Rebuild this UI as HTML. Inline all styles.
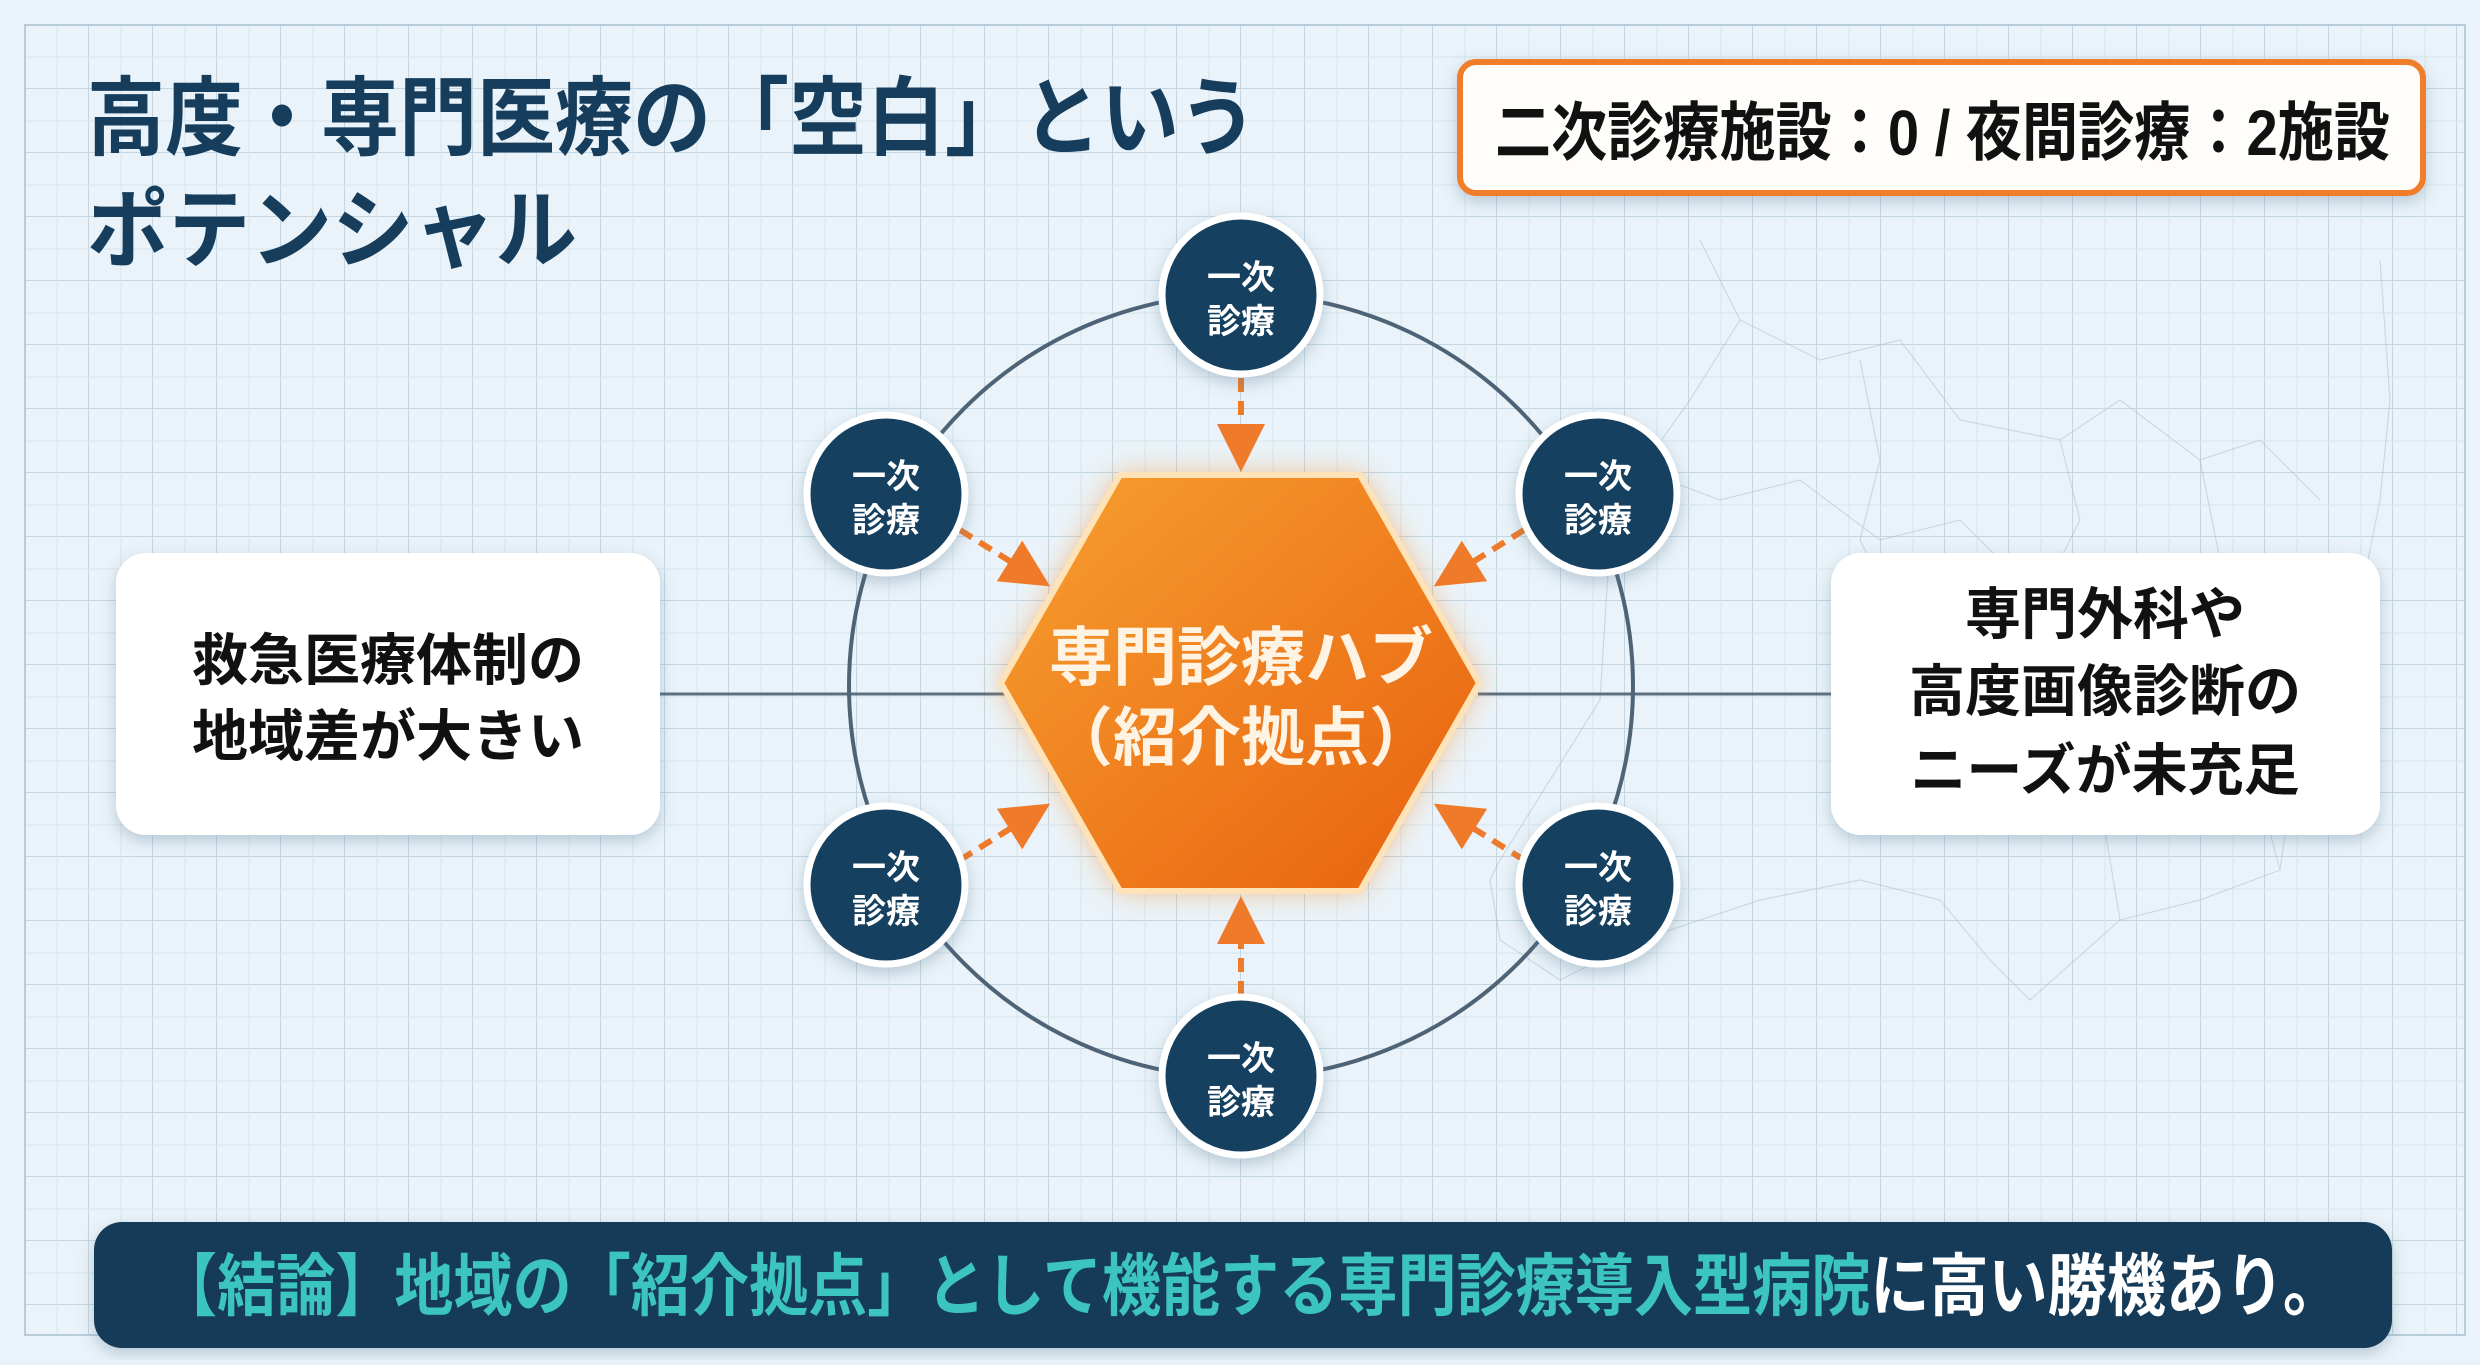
<!DOCTYPE html>
<html><head><meta charset="utf-8"><style>
html,body{margin:0;padding:0}
body{width:2480px;height:1360px;overflow:hidden;background:#e8f2f8;font-family:"Liberation Sans","Noto Sans CJK JP",sans-serif;}
svg text{font-family:"Liberation Sans","Noto Sans CJK JP",sans-serif;font-weight:700}
</style></head><body>
<svg width="2480" height="1360" viewBox="0 0 2480 1360" xmlns="http://www.w3.org/2000/svg">
<defs>
<pattern id="g" width="64" height="64" patternUnits="userSpaceOnUse" x="25" y="25">
<path d="M64 0V64M0 64H64" fill="none" stroke="#c3d6e2" stroke-width="2"/>
<path d="M32 0V64M0 32H64" fill="none" stroke="#d6e4ec" stroke-width="1"/>
</pattern>
<linearGradient id="hx" x1="0" y1="0" x2="1" y2="1">
<stop offset="0" stop-color="#f7a030"/><stop offset="1" stop-color="#e8600e"/>
</linearGradient>
<filter id="glow" x="-30%" y="-30%" width="160%" height="160%"><feGaussianBlur stdDeviation="14"/></filter>
<filter id="sh" x="-20%" y="-20%" width="140%" height="140%"><feDropShadow dx="0" dy="6" stdDeviation="8" flood-color="#5a7a90" flood-opacity="0.35"/></filter>
<marker id="ah" markerWidth="8" markerHeight="8" refX="6" refY="4" orient="auto" markerUnits="strokeWidth"><path d="M0,0 L8,4 L0,8 Z" fill="#ee7a2a"/></marker>
</defs>
<rect x="0" y="0" width="2480" height="1360" fill="#eaf3f9"/>
<rect x="25" y="25" width="2440" height="1310" fill="url(#g)" stroke="#b8cdd9" stroke-width="2"/>
<!-- faint map -->
<g fill="none" stroke="#a9b9c4" stroke-width="1.2" opacity="0.45">
<path d="M1700 240 L1740 320 L1690 400 L1640 470 L1610 540 L1600 700 L1500 860 L1490 880 L1500 940 L1560 980 L1640 940 L1760 900 L1860 880 L1940 900 L1990 960 L2030 1000 L2120 920 L2200 900 L2280 870 L2290 800 L2320 700 L2360 600 L2380 500 L2390 400 L2380 260"/>
<path d="M1740 320 L1820 360 L1900 340 L1960 420 L2060 440 L2120 400 L2200 460 L2260 440 L2320 500"/>
<path d="M1640 470 L1720 500 L1800 480 L1880 540 L1960 520 L2040 600"/>
<path d="M1860 360 L1880 460 L1860 540 L1900 620 L1880 700"/>
<path d="M2060 440 L2080 520 L2040 600 L2060 700 L2100 800 L2120 920"/>
<path d="M2200 460 L2220 560 L2200 640 L2240 720 L2280 870"/>
</g>
<!-- title -->
<text x="87" y="148" font-size="86" fill="#173d5c" textLength="1170" lengthAdjust="spacingAndGlyphs">高度・専門医療の「空白」という</text>
<text x="87" y="260" font-size="86" fill="#173d5c" textLength="490" lengthAdjust="spacingAndGlyphs">ポテンシャル</text>
<!-- top right box -->
<rect x="1460" y="62" width="963" height="131" rx="16" fill="#fffdfa" stroke="#ef7d2c" stroke-width="6" filter="url(#sh)"/>
<text x="1495" y="155" font-size="64" fill="#111" textLength="895" lengthAdjust="spacingAndGlyphs">二次診療施設：0 / 夜間診療：2施設</text>
<!-- lines -->
<line x1="660" y1="694" x2="1005" y2="694" stroke="#5b6f80" stroke-width="3"/>
<line x1="1478" y1="694" x2="1831" y2="694" stroke="#5b6f80" stroke-width="3"/>
<circle cx="1241" cy="686" r="392" fill="none" stroke="#4e6376" stroke-width="4"/>
<!-- side boxes -->
<rect x="116" y="553" width="544" height="282" rx="30" fill="#fff" filter="url(#sh)"/>
<text x="388" y="680" font-size="56" fill="#111" text-anchor="middle">救急医療体制の</text>
<text x="388" y="756" font-size="56" fill="#111" text-anchor="middle">地域差が大きい</text>
<rect x="1831" y="553" width="549" height="282" rx="30" fill="#fff" filter="url(#sh)"/>
<text x="2105" y="634" font-size="56" fill="#111" text-anchor="middle">専門外科や</text>
<text x="2105" y="711" font-size="56" fill="#111" text-anchor="middle">高度画像診断の</text>
<text x="2105" y="790" font-size="56" fill="#111" text-anchor="middle">ニーズが未充足</text>
<!-- hexagon -->
<polygon points="1120,475 1360,475 1479,683 1360,891 1120,891 1001,683" fill="#f48a2a" opacity="0.55" filter="url(#glow)"/>
<polygon points="1120,475 1360,475 1479,683 1360,891 1120,891 1001,683" fill="url(#hx)" stroke="#ffe3b8" stroke-width="6" stroke-linejoin="round"/>
<text x="1241" y="680" font-size="64" fill="#fff3e4" text-anchor="middle">専門診療ハブ</text>
<text x="1241" y="760" font-size="64" fill="#fff3e4" text-anchor="middle">（紹介拠点）</text>
<!-- arrows -->
<g stroke="#ee7a2a" stroke-width="6" stroke-dasharray="14 9" fill="none" marker-end="url(#ah)">
<line x1="1241" y1="378" x2="1241" y2="460"/>
<line x1="1241" y1="995" x2="1241" y2="908"/>
<line x1="960" y1="530" x2="1040" y2="580"/>
<line x1="1524" y1="530" x2="1444" y2="580"/>
<line x1="960" y1="860" x2="1040" y2="810"/>
<line x1="1524" y1="860" x2="1444" y2="810"/>
</g>
<!-- nodes -->
<g font-size="34" fill="#fff" text-anchor="middle">
<g transform="translate(1241,295)"><circle r="79" fill="#16405f" stroke="#fff" stroke-width="7" filter="url(#sh)"/><text y="-6">一次</text><text y="38">診療</text></g>
<g transform="translate(886,494)"><circle r="79" fill="#16405f" stroke="#fff" stroke-width="7" filter="url(#sh)"/><text y="-6">一次</text><text y="38">診療</text></g>
<g transform="translate(1598,494)"><circle r="79" fill="#16405f" stroke="#fff" stroke-width="7" filter="url(#sh)"/><text y="-6">一次</text><text y="38">診療</text></g>
<g transform="translate(886,885)"><circle r="79" fill="#16405f" stroke="#fff" stroke-width="7" filter="url(#sh)"/><text y="-6">一次</text><text y="38">診療</text></g>
<g transform="translate(1598,885)"><circle r="79" fill="#16405f" stroke="#fff" stroke-width="7" filter="url(#sh)"/><text y="-6">一次</text><text y="38">診療</text></g>
<g transform="translate(1241,1076)"><circle r="79" fill="#16405f" stroke="#fff" stroke-width="7" filter="url(#sh)"/><text y="-6">一次</text><text y="38">診療</text></g>
</g>
<!-- banner -->
<rect x="94" y="1222" width="2298" height="126" rx="28" fill="#123a58" filter="url(#sh)"/>
<text x="158" y="1310" font-size="68" textLength="2184" lengthAdjust="spacingAndGlyphs"><tspan fill="#3cc4c0">【結論】地域の「紹介拠点」として機能する専門診療導入型病院</tspan><tspan fill="#fff">に高い勝機あり。</tspan></text>
</svg>
</body></html>
